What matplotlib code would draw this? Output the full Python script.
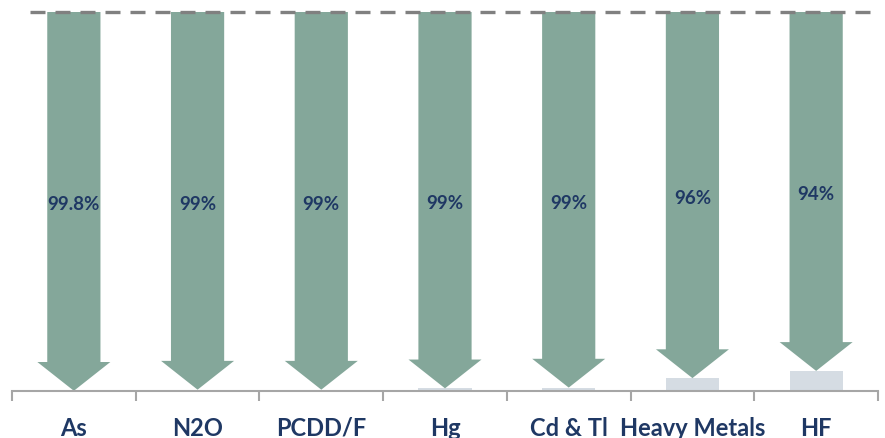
import matplotlib
matplotlib.use("Agg")
import matplotlib.pyplot as plt
from matplotlib.patches import FancyArrow
import numpy as np

categories = ["As", "N2O", "PCDD/F", "Hg", "Cd & Tl", "Heavy Metals", "HF"]
reduction_labels = ["99.8%", "99%", "99%", "99%", "99%", "96%", "94%"]
remaining = [0.05, 0.35, 0.35, 0.7, 0.9, 3.4, 5.3]
baseline = 100

arrow_color = "#84A79A"
bar_color = "#D5DCE3"
text_color = "#1F3864"

plt.rcParams['font.family'] = ['Lato', 'DejaVu Sans']

fig = plt.figure(figsize=(8.85, 4.39), dpi=100)
ax = fig.add_axes([12/885, (439-392)/439, (878-12)/885, 392/439])
ax.set_xlim(-0.5, len(categories) - 0.5)
ax.set_ylim(0, baseline * 392 / 379)

x = np.arange(len(categories))
ax.bar(x, remaining, width=0.43, color=bar_color, zorder=1)

for xi, rem, lab in zip(x, remaining, reduction_labels):
    arr = FancyArrow(xi, baseline, 0, -(baseline - rem), width=0.43,
                     head_width=0.59, head_length=7.6,
                     length_includes_head=True, color=arrow_color,
                     linewidth=0, zorder=2)
    ax.add_patch(arr)
    ax.text(xi, (baseline + rem) / 2 - 0.6, lab, ha='center', va='center',
            color=text_color, fontsize=13.5, fontweight='bold', zorder=3)

ax.plot([-0.355, len(categories) - 0.5], [baseline, baseline],
        color="#808080", lw=2.4, linestyle=(0, (4.5, 3)), zorder=4,
        solid_capstyle='butt', dash_capstyle='butt')

for s in ['top', 'right', 'left']:
    ax.spines[s].set_visible(False)
ax.spines['bottom'].set_color('#A6A6A6')
ax.spines['bottom'].set_linewidth(1.5)
ax.set_yticks([])

ax.set_xticks(x)
ax.set_xticklabels(categories, fontsize=17, fontweight='bold', color=text_color)
ax.tick_params(axis='x', which='major', length=0, pad=18)
ax.set_xticks(np.arange(-0.5, len(categories)), minor=True)
ax.tick_params(axis='x', which='minor', length=7, width=1.5, color='#A6A6A6')

fig.savefig("out.png", dpi=100)
